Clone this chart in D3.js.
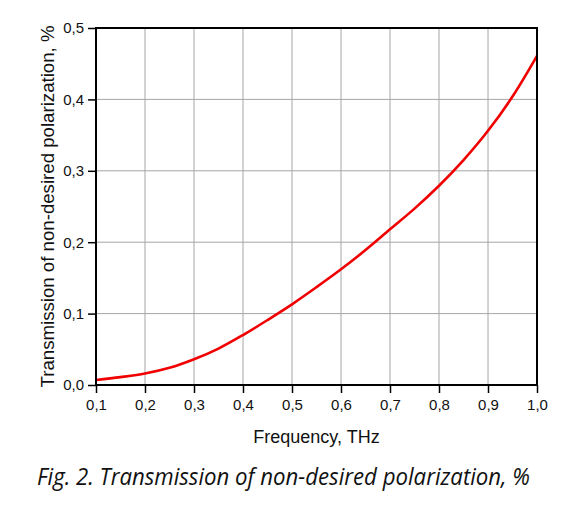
<html>
<script src="https://d3js.org/d3.v7.min.js"></script>
<style>
    body { margin: 0; background: #fff; }
    svg { display: block; }
    .grid line { stroke: #a6a6a6; stroke-width: 1px; }
    .axis text { font-family: "Liberation Sans", Arial, sans-serif; font-size: 15px; fill: #111; }
    .axis line, .axis path { stroke: #000; stroke-width: 1.5px; }
    .frame { fill: none; stroke: #000; stroke-width: 2px; }
    .curve { fill: none; stroke: #f00000; stroke-width: 2.6px; }
    .label { font-family: "Liberation Sans", Arial, sans-serif; font-size: 18px; fill: #111; text-anchor: middle; }
    .caption { font-family: "Open Sans", sans-serif; font-style: italic; font-size: 23px; fill: #111; }
</style>
<svg width=579 height=516></svg>
<script>
    // frequency, THz
    let freq = [0.10, 0.15, 0.20, 0.25, 0.30, 0.35, 0.40, 0.45, 0.50, 0.55,
                0.60, 0.65, 0.70, 0.75, 0.80, 0.85, 0.90, 0.95, 1.00];
    // transmission, %
    let trans = [0.007, 0.011, 0.016, 0.024, 0.036, 0.051, 0.070, 0.091, 0.113, 0.137,
                 0.162, 0.189, 0.218, 0.247, 0.279, 0.315, 0.356, 0.404, 0.461];
    let xTicks = [0.1, 0.2, 0.3, 0.4, 0.5, 0.6, 0.7, 0.8, 0.9, 1.0];
    let yTicks = [0.0, 0.1, 0.2, 0.3, 0.4, 0.5];

    let svg = d3.select('svg'),
        margin = { top: 28, right: 42, bottom: 131, left: 96 },
        width = +svg.attr('width') - margin.left - margin.right,
        height = +svg.attr('height') - margin.top - margin.bottom;

    let g = svg.append('g')
        .attr('transform', 'translate(' + margin.left + ',' + margin.top + ')');

    let x = d3.scaleLinear().domain([0.1, 1.0]).range([0, width]);
    let y = d3.scaleLinear().domain([0, 0.5]).range([height, 0]);
    let fmt = d => d3.format('.1f')(d).replace('.', ',');

    // grid
    g.append('g').attr('class', 'grid')
        .selectAll('line').data(xTicks.slice(1, -1)).enter().append('line')
        .attr('x1', d => x(d)).attr('x2', d => x(d))
        .attr('y1', 0).attr('y2', height);
    g.append('g').attr('class', 'grid')
        .selectAll('line').data(yTicks.slice(1, -1)).enter().append('line')
        .attr('y1', d => y(d)).attr('y2', d => y(d))
        .attr('x1', 0).attr('x2', width);

    g.append('g').attr('class', 'axis')
        .attr('transform', 'translate(0,' + height + ')')
        .call(d3.axisBottom(x).tickValues(xTicks).tickFormat(fmt).tickSize(8).tickPadding(6))
        .call(a => a.select('.domain').remove());
    g.append('g').attr('class', 'axis')
        .call(d3.axisLeft(y).tickValues(yTicks).tickFormat(fmt).tickSize(8).tickPadding(4))
        .call(a => a.select('.domain').remove());

    let line = d3.line()
        .x((d, i) => x(freq[i]))
        .y(d => y(d))
        .curve(d3.curveCatmullRom.alpha(0.5));

    g.append('path').attr('class', 'curve').attr('d', line(trans));

    g.append('rect').attr('class', 'frame')
        .attr('width', width).attr('height', height);

    g.append('text').attr('class', 'label')
        .attr('x', width / 2).attr('y', height + 58)
        .text('Frequency, THz');

    g.append('text').attr('class', 'label')
        .attr('transform', 'translate(-42,' + (height / 2) + ') rotate(-90)')
        .attr('textLength', 362)
        .attr('lengthAdjust', 'spacingAndGlyphs')
        .text('Transmission of non-desired polarization, %');

    svg.append('text').attr('class', 'caption')
        .attr('x', 37).attr('y', 485)
        .attr('textLength', 493)
        .attr('lengthAdjust', 'spacingAndGlyphs')
        .text('Fig. 2. Transmission of non-desired polarization, %');
</script>
</html>
